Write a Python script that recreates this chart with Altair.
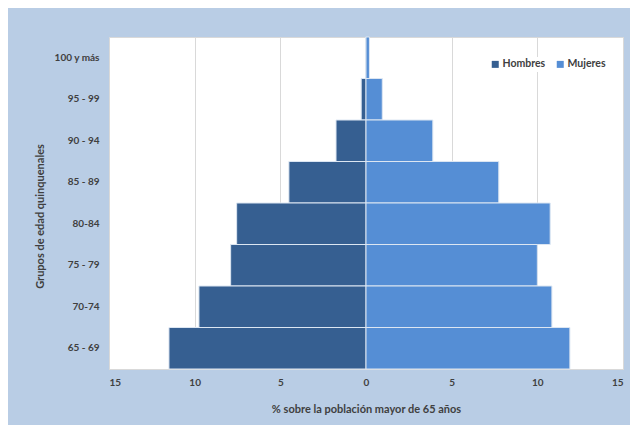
import altair as alt
import pandas as pd

ages = ["100 y más", "95 - 99", "90 - 94", "85 - 89", "80-84", "75 - 79", "70-74", "65 - 69"]
hombres = [0.02, 0.28, 1.75, 4.5, 7.55, 7.9, 9.75, 11.5]
mujeres = [0.2, 0.95, 3.9, 7.75, 10.75, 10.0, 10.85, 11.9]
sexes = ["Hombres", "Mujeres"]
colors = ["#365f91", "#558ed5"]
x_ticks = [-15, -10, -5, 0, 5, 10, 15]

rows = []
for a, h, m in zip(ages, hombres, mujeres):
    rows.append({"edad": a, "sexo": "Hombres", "valor": -h})
    rows.append({"edad": a, "sexo": "Mujeres", "valor": m})
df = pd.DataFrame(rows)

FONT = "Lato"
TXT = "#404040"

chart = alt.Chart(df).mark_bar(stroke="#dce6f2", strokeWidth=1).encode(
    x=alt.X("valor:Q",
            scale=alt.Scale(domain=[-15, 15], nice=False, zero=False),
            axis=alt.Axis(values=x_ticks, labelExpr="abs(datum.value)",
                          title="% sobre la población mayor de 65 años",
                          titleX=257, titleY=40, titleBaseline="middle",
                          titleAlign="center",
                          grid=True, gridColor="#d9d9d9", ticks=False, domain=False,
                          labelPadding=8, labelFontSize=10, labelFont=FONT,
                          labelFontWeight="bold", labelColor=TXT,
                          titleFontSize=11, titleFont=FONT, titleFontWeight="bold",
                          titleColor=TXT)),
    y=alt.Y("edad:N", sort=ages,
            scale=alt.Scale(paddingInner=0, paddingOuter=0),
            axis=alt.Axis(title="Grupos  de  edad  quinquenales",
                          titleAngle=270, titleX=-69, titleY=179,
                          titleBaseline="middle", titleAlign="center",
                          ticks=False, domain=False, grid=False,
                          labelPadding=10, labelFontSize=10, labelFont=FONT,
                          labelFontWeight="bold", labelColor=TXT,
                          titleFontSize=11, titleFont=FONT, titleFontWeight="bold",
                          titleColor=TXT)),
    color=alt.Color("sexo:N", scale=alt.Scale(domain=sexes, range=colors),
                    legend=alt.Legend(title=None, orient="none", legendX=379, legendY=20,
                                      direction="horizontal", symbolType="square",
                                      symbolSize=49, symbolStrokeWidth=0,
                                      labelFont=FONT, labelFontSize=10.5,
                                      labelFontWeight="bold", labelColor=TXT,
                                      labelOffset=2, columnPadding=9,
                                      fillColor="white", padding=2)),
).properties(
    width=514, height=332,
    autosize=alt.AutoSizeParams(type="none"),
    padding={"left": 101, "top": 29, "right": 7, "bottom": 56},
    background="#b9cde5",
).configure_view(fill="white", stroke="#d9d9d9", strokeWidth=1)

chart.save("out.html", embed_options={"renderer": "svg", "actions": False})
